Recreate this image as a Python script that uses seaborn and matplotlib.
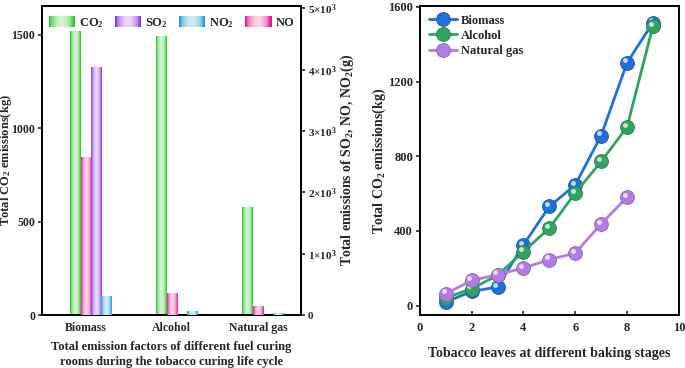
import numpy as np
import pandas as pd
import matplotlib
matplotlib.use("Agg")
import matplotlib.pyplot as plt
import matplotlib.colors as mcolors
import matplotlib.transforms as mtransforms
from matplotlib.legend_handler import HandlerBase
from matplotlib.patches import Rectangle
import seaborn as sns

# ---- data ----
fuels = ["Biomass", "Alcohol", "Natural gas"]
gases = ["CO2", "NO", "SO2", "NO2"]              # slot order inside a group
legend_order = ["CO2", "SO2", "NO2", "NO"]
gas_labels = {"CO2": "CO$_2$", "SO2": "SO$_2$", "NO2": "NO$_2$", "NO": "NO"}
co2_kg = [1518, 1496, 580]                       # left axis
so2_g = [4050, np.nan, np.nan]                   # right axis
no2_g = [310, 65, 28]
no_g = [2570, 353, 147]

stages = [1, 2, 3, 4, 5, 6, 7, 8, 9]
biomass_line = [20, 76, 100, 326, 531, 647, 911, 1301, 1515]
alcohol_line = [41, 91, 162, 290, 415, 603, 772, 956, 1497]
gas_stages = [1, 2, 3, 4, 5, 6, 7, 8]
natgas_line = [64, 135, 166, 202, 246, 282, 438, 581]

gas_colors = {"CO2": "#1fc81f", "SO2": "#8e2fd6", "NO2": "#1a9ad2", "NO": "#ec1493"}
line_colors = {"Biomass": "#1f6fdc", "Alcohol": "#2fa35f", "Natural gas": "#b27ce6"}

sns.set_theme(style="white")
plt.rcParams["font.family"] = ["Liberation Serif", "DejaVu Serif"]
plt.rcParams["font.weight"] = "bold"
plt.rcParams["axes.labelweight"] = "bold"
plt.rcParams["mathtext.fontset"] = "custom"
plt.rcParams["mathtext.rm"] = "Liberation Serif:bold"
plt.rcParams["mathtext.bf"] = "Liberation Serif:bold"
plt.rcParams["mathtext.it"] = "Liberation Serif:bold"
plt.rcParams["mathtext.default"] = "rm"


def profile(n=40):
    t = np.linspace(0, 1, n)
    return 0.8 * (1 - np.abs(2 * t - 1) ** 2.2)


def gradient_rgba(color, n=40):
    base = np.array(mcolors.to_rgb(color))
    f = profile(n)[:, None]
    return base * (1 - f) + f


class GradientHandler(HandlerBase):
    def create_artists(self, legend, orig_handle, xdescent, ydescent,
                       width, height, fontsize, trans):
        n = 30
        cols = gradient_rgba(orig_handle.get_facecolor(), n)
        arts = []
        for i in range(n):
            r = Rectangle((-xdescent + width * i / n, -ydescent), width / n + 0.3, height,
                          facecolor=cols[i], edgecolor="none", transform=trans)
            arts.append(r)
        return arts


def shade_bars(ax, shift):
    for p in list(ax.patches):
        h = p.get_height()
        if not np.isfinite(h) or h <= 0:
            continue
        p.set_x(p.get_x() + shift)   # bars sit a bit right of the category centre
        x, w = p.get_x(), p.get_width()
        img = gradient_rgba(p.get_facecolor())[None, :, :]
        im = ax.imshow(img, extent=[x, x + w, 0, h], aspect="auto",
                       interpolation="bilinear", zorder=3)
        im.set_clip_path(p)


fig = plt.figure(figsize=(6.85, 3.68), dpi=100)
ax1 = fig.add_axes([0.0613, 0.144, 0.378, 0.840])
ax1r = ax1.twinx()
ax2 = fig.add_axes([0.613, 0.144, 0.378, 0.840])

# ---- left: bars ----
rows = []
for i, f in enumerate(fuels):
    rows.append((f, "CO2", co2_kg[i]))
    rows.append((f, "NO", no_g[i]))
    rows.append((f, "SO2", so2_g[i]))
    rows.append((f, "NO2", no2_g[i]))
df = pd.DataFrame(rows, columns=["fuel", "gas", "value"])

left = df.copy()
left.loc[left.gas != "CO2", "value"] = np.nan
right = df.copy()
right.loc[right.gas == "CO2", "value"] = np.nan

sns.barplot(data=left, x="fuel", y="value", hue="gas", hue_order=gases, order=fuels,
            palette=gas_colors, width=0.48, ax=ax1, legend=False, errorbar=None,
            saturation=1, linewidth=0)
sns.barplot(data=right, x="fuel", y="value", hue="gas", hue_order=gases, order=fuels,
            palette=gas_colors, width=0.48, ax=ax1r, legend=False, errorbar=None,
            saturation=1, linewidth=0)
shade_bars(ax1, 0.06)
shade_bars(ax1r, 0.06)

ax1.set_xlim(-0.51, 2.5)
ax1.set_ylim(0, 1655)
ax1r.set_ylim(0, 5040)
ax1.set_yticks([0, 500, 1000, 1500])
ax1r.set_yticks([0, 1000, 2000, 3000, 4000, 5000])
ax1r.set_yticklabels(["0"] + [f"{k}×10$^3$" for k in range(1, 6)])
ax1.set_xlabel("Total emission factors of different fuel curing\nrooms during the tobacco curing life cycle",
               fontsize=9, linespacing=1.4)
ax1.xaxis.set_label_coords(0.5, -0.083)
ax1.set_ylabel("Total CO$_2$ emissions(kg)", fontsize=9)
ax1.yaxis.set_label_coords(-0.108, 0.5)
ax1r.set_ylabel("Total emissions of SO$_2$, NO, NO$_2$(g)", fontsize=10)
ax1r.yaxis.set_label_coords(1.147, 0.5)
ax1.tick_params(axis="x", length=0, labelsize=8.5, pad=5)
ax1.tick_params(axis="y", direction="out", length=3, width=1.2, labelsize=8.5, left=True, pad=2)
ax1r.tick_params(axis="y", direction="out", length=3, width=1.2, labelsize=8, right=True, pad=2)
for a in (ax1, ax1r):
    for s in a.spines.values():
        s.set_linewidth(1.4)
        s.set_color("black")
    a.grid(False)

handles = [Rectangle((0, 0), 1, 1, facecolor=gas_colors[g]) for g in legend_order]
ax1.legend(handles, [gas_labels[g] for g in legend_order], loc="upper center",
           ncol=4, frameon=False, fontsize=9, handlelength=2.1, handleheight=1.0,
           columnspacing=0.85, handletextpad=0.35, borderaxespad=0.4,
           bbox_to_anchor=(0.5, 1.0),
           handler_map={Rectangle: GradientHandler()})

# ---- right: lines ----
series = [("Biomass", stages, biomass_line),
          ("Alcohol", stages, alcohol_line),
          ("Natural gas", gas_stages, natgas_line)]
hl = mtransforms.offset_copy(ax2.transData, fig=fig, x=-1.6, y=1.6, units="points")
for name, xs, ys in series:
    c = line_colors[name]
    dark = np.array(mcolors.to_rgb(c)) * 0.8
    sns.lineplot(x=xs, y=ys, ax=ax2, color=c, linewidth=2, marker="o", markersize=10,
                 markeredgecolor=dark, markeredgewidth=0.6, label=name)
    ax2.plot(xs, ys, linestyle="none", marker="o", markersize=3.5, color="white",
             alpha=0.75, markeredgewidth=0, transform=hl)

ax2.set_xlim(0, 10)
ax2.set_ylim(-50, 1605)
ax2.set_xticks([0, 2, 4, 6, 8, 10])
ax2.set_yticks([0, 400, 800, 1200, 1600])
ax2.set_xlabel("Tobacco leaves at different baking stages", fontsize=10)
ax2.xaxis.set_label_coords(0.5, -0.105)
ax2.set_ylabel("Total CO$_2$ emissions(kg)", fontsize=10)
ax2.yaxis.set_label_coords(-0.125, 0.5)
ax2.tick_params(axis="x", direction="in", length=3, width=1.2, labelsize=9, bottom=True, pad=5)
ax2.tick_params(axis="y", direction="out", length=3, width=1.2, labelsize=9, left=True, pad=2)
for s in ax2.spines.values():
    s.set_linewidth(1.4)
    s.set_color("black")
ax2.grid(False)
ax2.legend(loc="upper left", frameon=False, fontsize=9, handlelength=2.3,
           handletextpad=0.3, labelspacing=0.25, borderaxespad=0.3)

fig.savefig("out.png", dpi=100)
